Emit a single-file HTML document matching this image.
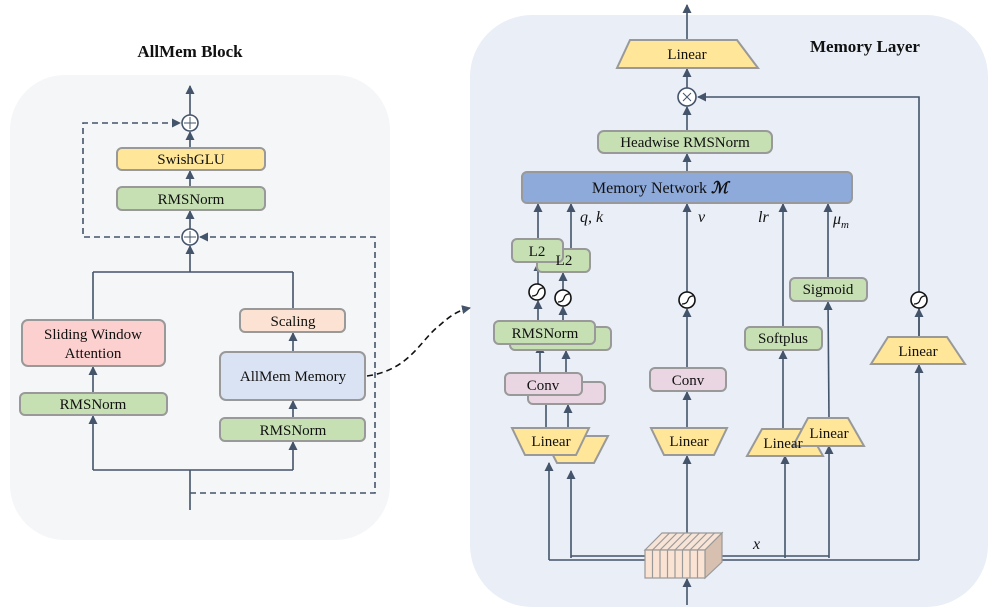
<!DOCTYPE html>
<html><head><meta charset="utf-8"><style>body{margin:0;background:#fff}svg{display:block}text{font-family:"Liberation Serif",serif;fill:#111}</style></head><body>
<svg width="996" height="612" viewBox="0 0 996 612" xmlns="http://www.w3.org/2000/svg">
<defs><marker id="a" markerWidth="9" markerHeight="9" refX="8" refY="4.5" orient="auto" markerUnits="userSpaceOnUse"><path d="M0,0 L9,4.5 L0,9 Z" fill="#44546a"/></marker></defs>
<g stroke="#44546a" stroke-width="1.6" fill="none">
<rect x="10" y="75" width="380" height="465" rx="55" fill="#f5f6f8" stroke="none"/>
<rect x="470" y="15" width="518" height="592" rx="62" fill="#e9eef7" stroke="none"/>
</g>
<text x="190" y="57" font-size="17" font-weight="bold" text-anchor="middle">AllMem Block</text>
<text x="865" y="52" font-size="17" font-weight="bold" text-anchor="middle">Memory Layer</text>
<g stroke="#44546a" stroke-width="1.6" fill="none">
<line x1="190" y1="115" x2="190" y2="86" marker-end="url(#a)"/>
<line x1="190" y1="148" x2="190" y2="132" marker-end="url(#a)"/>
<line x1="190" y1="187" x2="190" y2="171" marker-end="url(#a)"/>
<line x1="190" y1="229" x2="190" y2="211" marker-end="url(#a)"/>
<line x1="190" y1="272" x2="190" y2="246" marker-end="url(#a)"/>
<line x1="93" y1="272" x2="293" y2="272"/>
<line x1="93" y1="272" x2="93" y2="320"/>
<line x1="293" y1="272" x2="293" y2="309"/>
<line x1="293" y1="352" x2="293" y2="333" marker-end="url(#a)"/>
<line x1="93" y1="393" x2="93" y2="367" marker-end="url(#a)"/>
<line x1="293" y1="418" x2="293" y2="401" marker-end="url(#a)"/>
<line x1="93" y1="470" x2="93" y2="416" marker-end="url(#a)"/>
<line x1="293" y1="470" x2="293" y2="442" marker-end="url(#a)"/>
<line x1="93" y1="470" x2="293" y2="470"/>
<line x1="190" y1="510" x2="190" y2="470"/>
<g stroke-dasharray="6,4">
<polyline points="190,237 83,237 83,123 180,123" marker-end="url(#a)"/>
<polyline points="190,493 375,493 375,237 200,237" marker-end="url(#a)"/>
<path d="M367,376 C410,370 420,340 440,325 C452,314 460,310 470,308" stroke="#111" marker-end="url(#a)"/>
</g>
<circle cx="190" cy="123" r="8" fill="#fff"/><circle cx="190" cy="237" r="8" fill="#fff"/>
<path d="M184,123h12M190,117v12M184,237h12M190,231v12" stroke-width="1"/>
</g>
<g stroke="#999" stroke-width="2">
<rect x="117" y="148" width="148" height="22" rx="5" fill="#ffe699"/>
<rect x="117" y="187" width="148" height="23" rx="5" fill="#c6e0b4"/>
<rect x="22" y="320" width="143" height="46" rx="6" fill="#fdd0d0"/>
<rect x="20" y="393" width="147" height="22" rx="5" fill="#c6e0b4"/>
<rect x="240" y="309" width="105" height="23" rx="5" fill="#fbe2d3"/>
<rect x="220" y="352" width="145" height="48" rx="6" fill="#dae3f3"/>
<rect x="220" y="418" width="145" height="23" rx="5" fill="#c6e0b4"/>
</g>
<g font-size="15" text-anchor="middle">
<text x="191" y="164">SwishGLU</text><text x="191" y="204">RMSNorm</text>
<text x="93" y="339">Sliding Window</text><text x="93" y="358">Attention</text>
<text x="93" y="409">RMSNorm</text><text x="293" y="326">Scaling</text>
<text x="293" y="381">AllMem Memory</text><text x="293" y="435">RMSNorm</text>
</g>
<g stroke="#44546a" stroke-width="1.6" fill="none">
<line x1="687" y1="40" x2="687" y2="5" marker-end="url(#a)"/>
<line x1="687" y1="88" x2="687" y2="69" marker-end="url(#a)"/>
<line x1="687" y1="131" x2="687" y2="107" marker-end="url(#a)"/>
<line x1="687" y1="172" x2="687" y2="154" marker-end="url(#a)"/>
<polyline points="919,337 919,97 698,97" marker-end="url(#a)"/>
<line x1="538" y1="239" x2="538" y2="204" marker-end="url(#a)"/>
<line x1="571" y1="249" x2="571" y2="204" marker-end="url(#a)"/>
<line x1="687" y1="292" x2="687" y2="204" marker-end="url(#a)"/>
<line x1="783" y1="327" x2="783" y2="204" marker-end="url(#a)"/>
<line x1="828" y1="278" x2="828" y2="204" marker-end="url(#a)"/>
<line x1="538" y1="284" x2="538" y2="263" marker-end="url(#a)"/>
<line x1="563" y1="290" x2="563" y2="273" marker-end="url(#a)"/>
<line x1="538" y1="321" x2="538" y2="301" marker-end="url(#a)"/>
<line x1="563" y1="327" x2="563" y2="307" marker-end="url(#a)"/>
<line x1="540" y1="373" x2="540" y2="345" marker-end="url(#a)"/>
<line x1="566" y1="382" x2="566" y2="351" marker-end="url(#a)"/>
<line x1="546" y1="428" x2="546" y2="396" marker-end="url(#a)"/>
<line x1="568" y1="436" x2="568" y2="405" marker-end="url(#a)"/>
<line x1="687" y1="368" x2="687" y2="309" marker-end="url(#a)"/>
<line x1="687" y1="428" x2="687" y2="392" marker-end="url(#a)"/>
<line x1="783" y1="428" x2="783" y2="351" marker-end="url(#a)"/>
<line x1="829" y1="418" x2="828" y2="302" marker-end="url(#a)"/>
<line x1="919" y1="337" x2="919" y2="309" marker-end="url(#a)"/>
<line x1="549" y1="560" x2="549" y2="463" marker-end="url(#a)"/>
<line x1="571" y1="558" x2="571" y2="471" marker-end="url(#a)"/>
<line x1="687" y1="533" x2="687" y2="456" marker-end="url(#a)"/>
<line x1="785" y1="558" x2="785" y2="456" marker-end="url(#a)"/>
<line x1="829" y1="558" x2="829" y2="446" marker-end="url(#a)"/>
<line x1="919" y1="560" x2="919" y2="365" marker-end="url(#a)"/>
<line x1="549" y1="560" x2="919" y2="560"/>
<line x1="571" y1="556" x2="645" y2="556"/>
<line x1="715" y1="556" x2="829" y2="556"/>
<line x1="687" y1="605" x2="687" y2="579" marker-end="url(#a)"/>
<circle cx="687" cy="97" r="9" fill="#fff"/>
<path d="M683,93l8,8M691,93l-8,8" stroke-width="1"/>
</g>
<g stroke="#999" stroke-width="2">
<polygon points="630,40 737,40 758,68 617,68" fill="#ffe699"/>
<rect x="598" y="131" width="174" height="22" rx="6" fill="#c6e0b4"/>
<rect x="522" y="172" width="330" height="31" rx="5" fill="#8eaadb"/>
<rect x="537" y="249" width="53" height="23" rx="5" fill="#c6e0b4"/>
<rect x="512" y="239" width="51" height="23" rx="5" fill="#c6e0b4"/>
<rect x="510" y="327" width="101" height="23" rx="5" fill="#c6e0b4"/>
<rect x="494" y="321" width="101" height="23" rx="5" fill="#c6e0b4"/>
<rect x="528" y="382" width="77" height="22" rx="5" fill="#ead6e2"/>
<rect x="505" y="373" width="77" height="22" rx="5" fill="#ead6e2"/>
<rect x="650" y="368" width="76" height="23" rx="5" fill="#ead6e2"/>
<polygon points="543,436 608,436 594,463 557,463" fill="#ffe699"/>
<polygon points="512,428 589,428 576,455 525,455" fill="#ffe699"/>
<polygon points="651,428 727,428 714,455 664,455" fill="#ffe699"/>
<polygon points="762,429 808,429 823,456 747,456" fill="#ffe699"/>
<polygon points="808,418 848,418 864,446 793,446" fill="#ffe699"/>
<polygon points="888,337 947,337 965,364 871,364" fill="#ffe699"/>
<rect x="745" y="327" width="77" height="23" rx="5" fill="#c6e0b4"/>
<rect x="790" y="278" width="77" height="23" rx="5" fill="#c6e0b4"/>
</g>
<g stroke="#111" stroke-width="1.6" fill="#fff">
<circle cx="537" cy="292" r="8"/><circle cx="563" cy="298" r="8"/><circle cx="687" cy="300" r="8"/><circle cx="919" cy="300" r="8"/>
</g>
<g stroke="#111" stroke-width="1.3" fill="none">
<path d="M532,296 q5,0 6,-4 q1,-4 5,-4"/><path d="M558,302 q5,0 6,-4 q1,-4 5,-4"/><path d="M682,304 q5,0 6,-4 q1,-4 5,-4"/><path d="M914,304 q5,0 6,-4 q1,-4 5,-4"/>
</g>
<g stroke="#999" stroke-width="1.2">
<polygon points="645,550 662,533 722,533 705,550" fill="#f8e4d6"/>
<polygon points="705,550 722,533 722,562 705,578" fill="#d8c0b0"/>
<rect x="645" y="550" width="60" height="28" fill="#fbe3d4"/>
<path d="M652.5,550v28M660,550v28M667.5,550v28M675,550v28M682.5,550v28M690,550v28M697.5,550v28M652.5,550l17,-17M660,550l17,-17M667.5,550l17,-17M675,550l17,-17M682.5,550l17,-17M690,550l17,-17M697.5,550l17,-17" fill="none"/>
</g>
<g font-size="15" text-anchor="middle">
<text x="687" y="59">Linear</text>
<text x="685" y="147">Headwise RMSNorm</text>
<text x="660" y="193" font-size="16">Memory Network <tspan font-style="italic" font-weight="bold">ℳ</tspan></text>
<text x="564" y="265">L2</text><text x="537" y="256">L2</text>
<text x="545" y="338">RMSNorm</text>
<text x="543" y="390">Conv</text>
<text x="688" y="385">Conv</text>
<text x="551" y="446">Linear</text>
<text x="689" y="446">Linear</text>
<text x="783" y="448">Linear</text>
<text x="829" y="438">Linear</text>
<text x="918" y="356">Linear</text>
<text x="783" y="343">Softplus</text>
<text x="828" y="294">Sigmoid</text>
</g>
<g font-size="16" font-style="italic">
<text x="580" y="222">q, k</text><text x="698" y="222">v</text><text x="758" y="222">lr</text><text x="833" y="224">μ<tspan font-size="11" dy="4">m</tspan></text>
<text x="753" y="549">x</text>
</g>
</svg>
</body></html>
